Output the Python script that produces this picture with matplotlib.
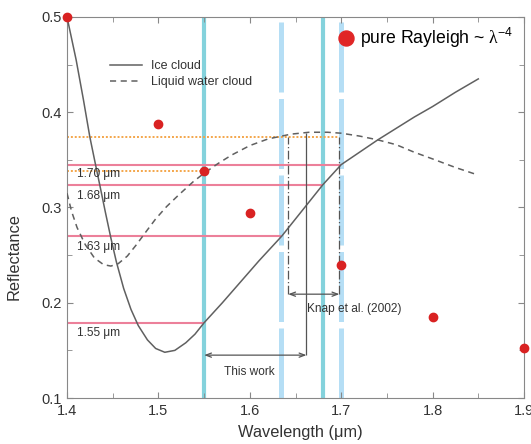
import matplotlib
matplotlib.use('Agg')
import matplotlib.pyplot as plt
from matplotlib.lines import Line2D
from matplotlib.ticker import MultipleLocator

plt.rcParams['font.family'] = ['Liberation Sans', 'DejaVu Sans']
plt.rcParams['mathtext.fontset'] = 'custom'
plt.rcParams['mathtext.rm'] = 'Liberation Serif'
plt.rcParams['mathtext.sf'] = 'Liberation Sans'

# reflectance curves
ice_wl = [1.400, 1.410, 1.418, 1.425, 1.431, 1.436, 1.442, 1.448, 1.454, 1.462,
          1.470, 1.478, 1.488, 1.497, 1.507, 1.518, 1.530, 1.540, 1.550, 1.570,
          1.590, 1.610, 1.635, 1.660, 1.680, 1.700, 1.720, 1.740, 1.760, 1.780,
          1.800, 1.825, 1.850]
ice_refl = [0.500, 0.455, 0.413, 0.374, 0.346, 0.323, 0.295, 0.268, 0.243, 0.215,
            0.193, 0.176, 0.161, 0.152, 0.148, 0.150, 0.158, 0.167, 0.179, 0.200,
            0.222, 0.244, 0.270, 0.300, 0.324, 0.345, 0.358, 0.371, 0.383, 0.395,
            0.406, 0.421, 0.435]

liq_wl = [1.400, 1.405, 1.411, 1.420, 1.430, 1.440, 1.448, 1.456, 1.466, 1.476,
          1.486, 1.497, 1.509, 1.522, 1.538, 1.550, 1.565, 1.580, 1.600, 1.620,
          1.645, 1.665, 1.685, 1.700, 1.720, 1.740, 1.760, 1.780, 1.800, 1.825,
          1.850]
liq_refl = [0.315, 0.296, 0.279, 0.261, 0.247, 0.240, 0.2385, 0.241, 0.249, 0.261,
            0.274, 0.288, 0.301, 0.313, 0.327, 0.336, 0.346, 0.355, 0.365, 0.372,
            0.377, 0.379, 0.379, 0.378, 0.375, 0.371, 0.366, 0.358, 0.351, 0.342,
            0.334]

# pure Rayleigh ~ lambda^-4
ray_wl = [1.4, 1.5, 1.55, 1.6, 1.7, 1.8, 1.9]
ray_refl = [0.500, 0.388, 0.338, 0.294, 0.240, 0.185, 0.152]

# channels
band_solid_wl = [1.55, 1.68]
band_dashed_wl = [1.634, 1.70]
chan_wl = [1.55, 1.634, 1.68, 1.70]
chan_refl = [0.179, 0.270, 0.324, 0.345]
chan_labels = ['1.55 μm', '1.63 μm', '1.68 μm', '1.70 μm']
chan_label_y = [0.165, 0.2554, 0.3086, 0.3323]

# orange dotted reference levels
ref_levels = [0.374, 0.338]
ref_ends = [1.698, 1.55]

# bracket annotations
this_work_wl = [1.55, 1.662]
this_work_y = 0.145
this_work_top = 0.378
knap_wl = [1.642, 1.698]
knap_y = 0.209
knap_top = 0.374

fig = plt.figure(figsize=(5.31, 4.44), dpi=100)
ax = fig.add_axes([67/531, 46/444, 457/531, 381/444])

for w in band_solid_wl:
    ax.axvline(w, color='#84d2dc', lw=3, zorder=1)
for w in band_dashed_wl:
    ax.axvline(w, color='#b5def5', lw=3.6, linestyle=(0, (14, 1.3)), zorder=1)

ax.hlines(chan_refl, 1.4, chan_wl, color='#ec809a', lw=1.5, zorder=2)
ax.hlines(ref_levels, 1.4, ref_ends, color='#f4a64a', lw=1.4,
          linestyles=[(0, (1, 1))], zorder=2)

ax.plot(ice_wl, ice_refl, color='#606060', lw=1.1, label='Ice cloud', zorder=3)
ax.plot(liq_wl, liq_refl, color='#606060', lw=1.1, dashes=(4, 3),
        label='Liquid water cloud', zorder=3)

ax.vlines(this_work_wl[1], this_work_y, this_work_top, color='#555555', lw=0.9, zorder=3)
ax.vlines(knap_wl, knap_y, knap_top, color='#555555', lw=0.9,
          linestyles=[(0, (7, 2, 1, 2))], zorder=3)
arrow = dict(arrowstyle='<->,head_length=0.4,head_width=0.15', color='#555555',
             lw=0.9, shrinkA=0, shrinkB=0)
ax.annotate('', xy=(this_work_wl[0], this_work_y), xytext=(this_work_wl[1], this_work_y),
            arrowprops=arrow)
ax.annotate('', xy=(knap_wl[0], knap_y), xytext=(knap_wl[1], knap_y),
            arrowprops=arrow)
ax.text(1.600, 0.124, 'This work', ha='center', va='baseline', fontsize=8.6, color='#333333')
ax.text(1.714, 0.1903, 'Knap et al. (2002)', ha='center', va='baseline', fontsize=8.6,
        color='#333333')

for lab, y in zip(chan_labels, chan_label_y):
    ax.text(1.4113, y, lab, ha='left', va='baseline', fontsize=8.6, color='#333333')

ax.plot(ray_wl, ray_refl, 'o', color='#d92222', ms=6, linestyle='none',
        clip_on=False, zorder=5)

leg1 = ax.legend(loc='upper left', bbox_to_anchor=(0.094, 0.887), frameon=False,
                 fontsize=9, handlelength=2.6, handletextpad=0.7, labelspacing=0.35,
                 borderaxespad=0, borderpad=0, labelcolor='#333333')
ax.add_artist(leg1)
h = Line2D([], [], marker='o', color='#e02626', ms=10.8, linestyle='none')
ax.legend([h], [r'pure Rayleigh ~ $\mathrm{\lambda}^{\mathsf{-4}}$'], loc='upper left',
          bbox_to_anchor=(0.595, 0.976), frameon=False, fontsize=12.7,
          handlelength=0.8, handletextpad=0.4, borderaxespad=0, borderpad=0)

ax.set_xlim(1.4, 1.9)
ax.set_ylim(0.1, 0.5)
ax.xaxis.set_major_locator(MultipleLocator(0.1))
ax.xaxis.set_minor_locator(MultipleLocator(0.05))
ax.yaxis.set_major_locator(MultipleLocator(0.1))
ax.yaxis.set_minor_locator(MultipleLocator(0.05))
ax.tick_params(which='both', direction='in', top=True, right=True, color='#888888',
               labelsize=10.5, labelcolor='#333333')
ax.tick_params(which='major', length=4, pad=4)
ax.tick_params(which='minor', length=3.5)
for s in ax.spines.values():
    s.set_color('#888888')

ax.set_xlabel('Wavelength (μm)', fontsize=11.8, color='#333333')
ax.set_ylabel('Reflectance', fontsize=11.8, color='#333333')
ax.xaxis.set_label_coords(0.51, -0.07)
ax.yaxis.set_label_coords(-0.099, 0.371)

fig.savefig('out.png', dpi=100)
